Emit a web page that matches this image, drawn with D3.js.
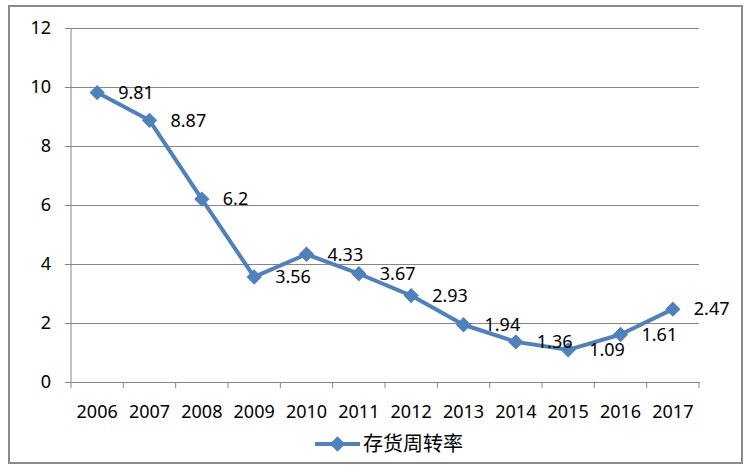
<!DOCTYPE html>
<html>
<head>
<meta charset="utf-8">
<script src="https://cdn.jsdelivr.net/npm/d3@7"></script>
<style>
  html, body { margin: 0; padding: 0; background: #fff; }
  svg text { font-family: "Noto Sans", "Noto Sans CJK SC", sans-serif; fill: #000; }
</style>
</head>
<body>
<svg id="chart"></svg>
<script>
// data
const years = ["2006","2007","2008","2009","2010","2011","2012","2013","2014","2015","2016","2017"];
const turnover = [9.81, 8.87, 6.2, 3.56, 4.33, 3.67, 2.93, 1.94, 1.36, 1.09, 1.61, 2.47];
const yTicks = [0, 2, 4, 6, 8, 10, 12];
const seriesName = "存货周转率";

const W = 751, H = 468;
const margin = { top: 28, left: 71, right: 52, bottom: 86 };
const width = W - margin.left - margin.right;
const height = H - margin.top - margin.bottom;
const blue = "#4F81BD", grey = "#868686";

const svg = d3.select("#chart").attr("width", W).attr("height", H);

// outer frame
svg.append("rect")
    .attr("x", 9).attr("y", 6)
    .attr("width", 733).attr("height", 457)
    .attr("fill", "#fff")
    .attr("stroke", "#8a8a8a")
    .attr("stroke-width", 2);

const g = svg.append("g").attr("transform", "translate(" + margin.left + "," + margin.top + ")");

const x = d3.scaleBand().domain(years).range([0, width]);
const y = d3.scaleLinear().domain([0, 12]).range([height, 0]);

// gridlines + y axis
const yAxis = g.append("g")
    .call(d3.axisLeft(y).tickValues(yTicks).tickSize(-width).tickPadding(0).tickFormat(d3.format("d")));
yAxis.select(".domain").remove();
yAxis.selectAll(".tick line").attr("stroke", grey).attr("x1", -6);
yAxis.selectAll(".tick text")
    .attr("x", -20)
    .attr("font-size", 18);

// x axis
const xAxis = g.append("g")
    .attr("transform", "translate(0," + height + ")")
    .call(d3.axisBottom(x).tickSize(0).tickPadding(23));
xAxis.select(".domain").attr("stroke", grey);
xAxis.selectAll(".tick text").attr("font-size", 18);
// tick marks at category boundaries
g.append("g").selectAll("line")
    .data(years.concat(["end"]))
    .join("line")
    .attr("x1", (d, i) => i * x.step())
    .attr("x2", (d, i) => i * x.step())
    .attr("y1", height).attr("y2", height + 6)
    .attr("stroke", grey);
g.append("line")
    .attr("x1", 0).attr("x2", 0).attr("y1", 0).attr("y2", height)
    .attr("stroke", grey);

const cx = d => x(d) + x.bandwidth() / 2;
const pts = years.map((yr, i) => ({ yr: yr, v: turnover[i] }));

const line = d3.line().x(d => cx(d.yr)).y(d => y(d.v));
g.append("path")
    .datum(pts)
    .attr("d", line)
    .attr("fill", "none")
    .attr("stroke", blue)
    .attr("stroke-width", 4)
    .attr("stroke-linejoin", "round");

const diamond = d3.symbol().type(d3.symbolDiamond2).size(150);
g.selectAll(".mark")
    .data(pts)
    .join("path")
    .attr("class", "mark")
    .attr("d", diamond)
    .attr("transform", d => "translate(" + cx(d.yr) + "," + y(d.v) + ")")
    .attr("fill", blue);

g.selectAll(".lbl")
    .data(pts)
    .join("text")
    .attr("class", "lbl")
    .attr("x", d => cx(d.yr) + 21)
    .attr("y", d => y(d.v))
    .attr("dy", "0.35em")
    .attr("font-size", 18)
    .text(d => d.v);

// legend
const lg = svg.append("g").attr("transform", "translate(315,444)");
lg.append("line").attr("x1", 0).attr("x2", 45).attr("stroke", blue).attr("stroke-width", 4);
lg.append("path").attr("d", diamond).attr("transform", "translate(22.5,0)").attr("fill", blue);
lg.append("text")
    .attr("x", 48).attr("y", 0).attr("dy", "0.36em")
    .attr("font-size", 20)
    .style("font-family", "'Noto Sans CJK SC', sans-serif")
    .text(seriesName);
</script>
</body>
</html>
